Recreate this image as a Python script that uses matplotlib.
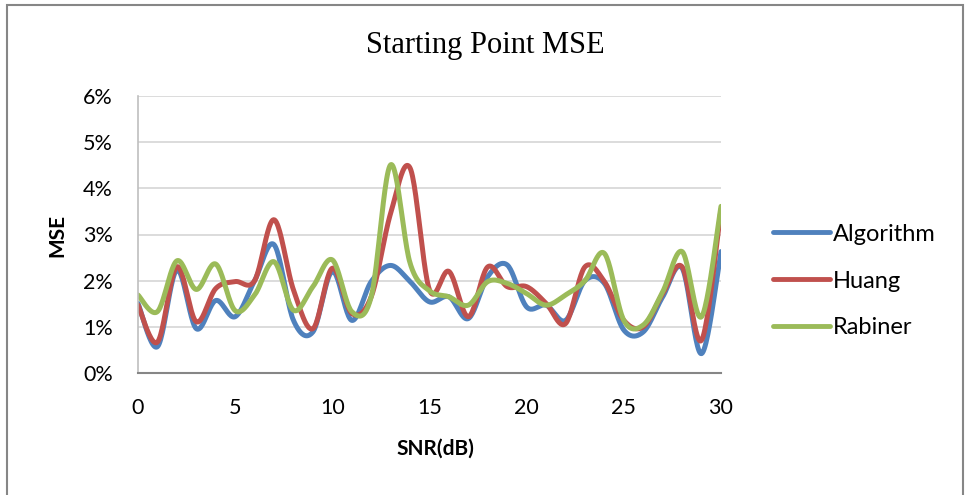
import numpy as np
import matplotlib
matplotlib.use("Agg")
import matplotlib.pyplot as plt
from matplotlib.patches import Rectangle
from matplotlib.ticker import FuncFormatter

# SNR values (dB)
snr = list(range(0, 31))

# Mean squared error of the starting point, in percent
algorithm = [1.51, 0.57, 2.23, 0.96, 1.57, 1.22, 2.00, 2.78, 1.14, 0.89,
             2.20, 1.14, 1.98, 2.33, 1.98, 1.54, 1.65, 1.18, 2.09, 2.34,
             1.43, 1.47, 1.14, 2.00, 1.94, 0.93, 0.89, 1.65, 2.27, 0.42,
             2.63]
huang = [1.47, 0.67, 2.30, 1.11, 1.83, 1.98, 2.00, 3.32, 1.80, 0.96,
         2.27, 1.29, 1.65, 3.46, 4.44, 1.80, 2.20, 1.22, 2.30, 1.87,
         1.87, 1.51, 1.07, 2.30, 1.98, 1.14, 1.00, 1.72, 2.30, 0.71,
         3.54]
rabiner = [1.69, 1.33, 2.43, 1.81, 2.36, 1.35, 1.69, 2.41, 1.36, 1.87,
           2.45, 1.33, 1.65, 4.51, 2.38, 1.78, 1.65, 1.47, 1.98, 1.94,
           1.72, 1.47, 1.69, 2.00, 2.59, 1.14, 1.04, 1.76, 2.63, 1.22,
           3.61]

series_names = ["Algorithm", "Huang", "Rabiner"]
series_colors = ["#4F81BD", "#C0504D", "#9BBB59"]


def smooth(x, y, n=24):
    """Catmull-Rom style Bezier smoothing between consecutive points."""
    x = np.asarray(x, float)
    y = np.asarray(y, float)
    px = np.concatenate([[x[0]], x, [x[-1]]])
    py = np.concatenate([[y[0]], y, [y[-1]]])
    xs, ys = [], []
    t = np.linspace(0, 1, n, endpoint=False)
    for i in range(1, len(px) - 2):
        p0 = np.array([px[i], py[i]])
        p3 = np.array([px[i + 1], py[i + 1]])
        c1 = p0 + (p3 - np.array([px[i - 1], py[i - 1]])) / 6.0
        c2 = p3 - (np.array([px[i + 2], py[i + 2]]) - p0) / 6.0
        b = ((1 - t) ** 3)[:, None] * p0 + (3 * (1 - t) ** 2 * t)[:, None] * c1 \
            + (3 * (1 - t) * t ** 2)[:, None] * c2 + (t ** 3)[:, None] * p3
        xs.append(b[:, 0])
        ys.append(b[:, 1])
    xs.append([x[-1]])
    ys.append([y[-1]])
    return np.concatenate(xs), np.concatenate(ys)


W, H = 967, 495
fig = plt.figure(figsize=(W / 100, H / 100), dpi=100)
fig.patch.set_facecolor("white")

# chart frame
fig.patches.append(Rectangle((7 / W, -0.05), (963 - 7) / W, 1.05 - 5 / H,
                             transform=fig.transFigure, fill=False,
                             edgecolor="#868686", lw=1.5, zorder=0))

ax_l, ax_r, ax_t, ax_b = 138, 721, 96, 373
ax = fig.add_axes([ax_l / W, 1 - ax_b / H, (ax_r - ax_l) / W, (ax_b - ax_t) / H])

for vals, name, col in zip([algorithm, huang, rabiner], series_names, series_colors):
    sx, sy = smooth(snr, vals)
    ax.plot(sx, sy, color=col, lw=3.6, solid_capstyle="round",
            solid_joinstyle="round", label=name)

ax.set_xlim(0, 30)
ax.set_ylim(0, 6)
ax.set_xticks(range(0, 31, 5))
ax.set_yticks(range(0, 7))
ax.yaxis.set_major_formatter(FuncFormatter(lambda v, p: f"{int(v)}%"))
ax.grid(axis="y", color="#D9D9D9", lw=1.3)
ax.set_axisbelow(True)
ax.tick_params(length=0, labelsize=15.5)
ax.tick_params(axis="y", pad=18)
ax.tick_params(axis="x", pad=18)
for lab in ax.get_xticklabels() + ax.get_yticklabels():
    lab.set_fontfamily("Lato")

for s in ["top", "right"]:
    ax.spines[s].set_visible(False)
ax.spines["left"].set_color("#BFBFBF")
ax.spines["left"].set_linewidth(1.2)
ax.spines["bottom"].set_color("#868686")
ax.spines["bottom"].set_linewidth(1.5)

axw, axh = ax_r - ax_l, ax_b - ax_t
ax.set_xlabel("SNR(dB)", fontsize=15, fontweight="bold", family="Lato")
ax.set_ylabel("MSE", fontsize=15, fontweight="bold", family="Lato")
ax.xaxis.set_label_coords((435 - ax_l) / axw, (ax_b - 449) / axh)
ax.xaxis.label.set_va("center")
ax.yaxis.set_label_coords((57 - ax_l) / axw, (ax_b - 236) / axh)
ax.yaxis.label.set_va("center")

fig.text(485 / W, 1 - 45 / H, "Starting Point MSE", ha="center", va="center",
         fontsize=22, family="Liberation Serif")

leg = ax.legend(loc="center left",
                bbox_to_anchor=((773 - ax_l) / axw, (ax_b - 281) / axh),
                frameon=False, borderpad=0, borderaxespad=0,
                prop={"family": "Lato", "size": 17}, handlelength=2.4,
                handletextpad=0.15, labelspacing=1.1)
for h in leg.get_lines():
    h.set_linewidth(3.5)

fig.savefig("out.png", dpi=100)
